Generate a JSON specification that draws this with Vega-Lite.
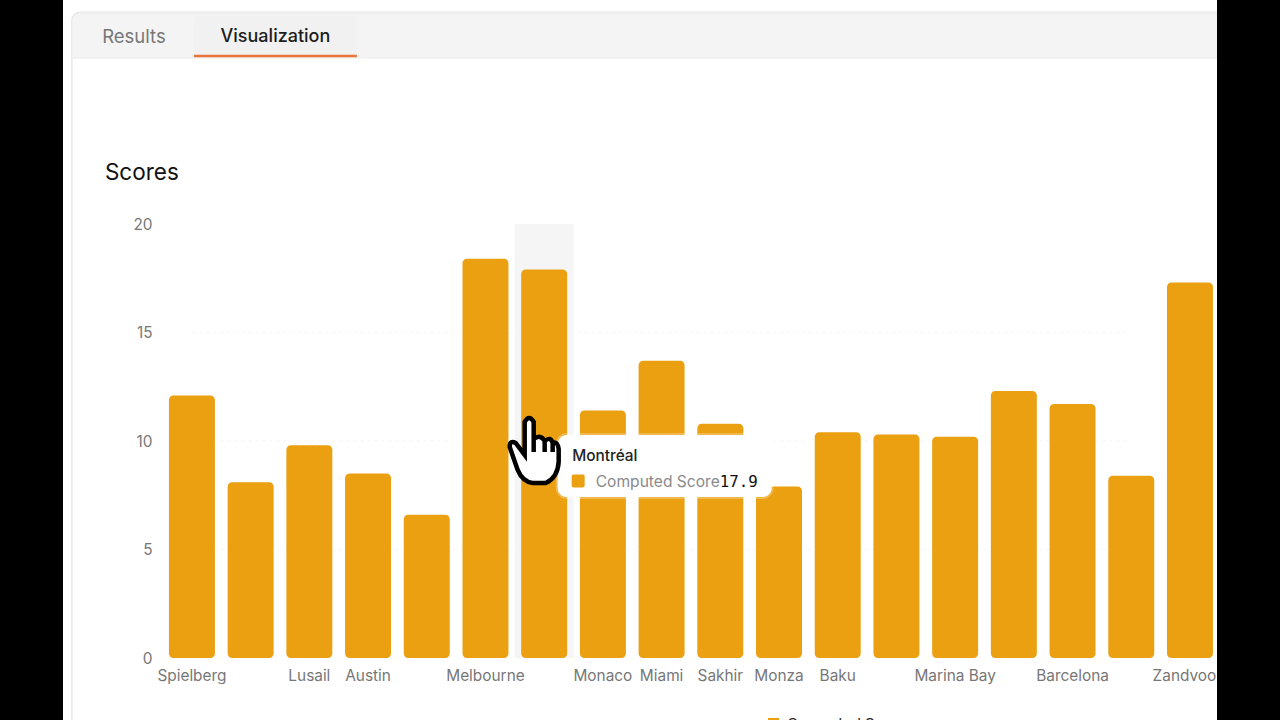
{
"$schema":"https://vega.github.io/schema/vega-lite/v6.json",
"width":1154,"height":720,
"autosize":{"type":"none"},
"padding":{"left":63,"right":63,"top":0,"bottom":0},
"background":"#000000",
"view":{"fill":"#ffffff","stroke":null},
"config":{"font":"Inter"},
"data":{"values":[
{"city":"Spielberg","score":12.1,"series":"Computed Score"},
{"city":"Silverstone","score":8.1,"series":"Computed Score"},
{"city":"Lusail","score":9.8,"series":"Computed Score"},
{"city":"Austin","score":8.5,"series":"Computed Score"},
{"city":"Mexico City","score":6.6,"series":"Computed Score"},
{"city":"Melbourne","score":18.4,"series":"Computed Score"},
{"city":"Montréal","score":17.9,"series":"Computed Score"},
{"city":"Monaco","score":11.4,"series":"Computed Score"},
{"city":"Miami","score":13.7,"series":"Computed Score"},
{"city":"Sakhir","score":10.8,"series":"Computed Score"},
{"city":"Monza","score":7.9,"series":"Computed Score"},
{"city":"Baku","score":10.4,"series":"Computed Score"},
{"city":"Suzuka","score":10.3,"series":"Computed Score"},
{"city":"Marina Bay","score":10.2,"series":"Computed Score"},
{"city":"Jeddah","score":12.3,"series":"Computed Score"},
{"city":"Barcelona","score":11.7,"series":"Computed Score"},
{"city":"Spa","score":8.4,"series":"Computed Score"},
{"city":"Zandvoort","score":17.3,"series":"Computed Score"}
]},
"resolve":{"axis":{"y":"independent"}},
"layer":[
{"data":{"values":[{"part":"panel"}]},
 "mark":{"type":"rect","clip":true,"width":1328,"xOffset":544,"fill":"transparent","stroke":"#e4e4e4","strokeWidth":1.2,"cornerRadius":8},
 "encoding":{"x":{"datum":"Spielberg","type":"nominal","axis":null},"y":{"datum":29.77,"type":"quantitative","axis":null},"y2":{"datum":-4}}},
{"data":{"values":[{"part":"tabbar"}]},
 "mark":{"type":"rect","clip":true,"width":1328,"xOffset":544,"fill":"#f4f4f4","stroke":"#ebebeb","strokeWidth":1,"cornerRadiusTopLeft":8},
 "encoding":{"x":{"datum":"Spielberg","type":"nominal","axis":null},"y":{"datum":29.72,"type":"quantitative","axis":null},"y2":{"datum":27.65}}},
{"data":{"values":[{"part":"tab"}]},
 "mark":{"type":"rect","width":163,"xOffset":83.5,"fill":"#f1f1f1","cornerRadiusTopLeft":4,"cornerRadiusTopRight":4},
 "encoding":{"x":{"datum":"Spielberg","type":"nominal","axis":null},"y":{"datum":29.6,"type":"quantitative","axis":null},"y2":{"datum":27.76}}},
{"data":{"values":[{"part":"underline"}]},
 "mark":{"type":"rect","width":163,"xOffset":83.5,"fill":"#e8763a"},
 "encoding":{"x":{"datum":"Spielberg","type":"nominal","axis":null},"y":{"datum":27.8,"type":"quantitative","axis":null},"y2":{"datum":27.68}}},
{"data":{"values":[{"label":"Results"}]},
 "mark":{"type":"text","align":"center","baseline":"middle","dx":-58,"dy":1,"fontSize":18.5,"fill":"#777777"},
 "encoding":{"x":{"datum":"Spielberg","type":"nominal","axis":null},"y":{"datum":28.66,"type":"quantitative","axis":null},"text":{"field":"label"}}},
{"data":{"values":[{"label":"Visualization"}]},
 "mark":{"type":"text","align":"center","baseline":"middle","dx":83.5,"dy":1,"fontSize":18,"fontWeight":500,"fill":"#1c1c1c"},
 "encoding":{"x":{"datum":"Spielberg","type":"nominal","axis":null},"y":{"datum":28.66,"type":"quantitative","axis":null},"text":{"field":"label"}}},
{"data":{"values":[{"label":"Scores"}]},
 "mark":{"type":"text","align":"left","baseline":"middle","dx":-87,"dy":1,"fontSize":22.5,"fontWeight":400,"fill":"#111111"},
 "encoding":{"x":{"datum":"Spielberg","type":"nominal","axis":null},"y":{"datum":22.4,"type":"quantitative","axis":null},"text":{"field":"label"}}},
{"data":{"values":[{"tick":5},{"tick":10},{"tick":15}]},
 "mark":{"type":"rule","stroke":"#f7f7f7","strokeWidth":1,"strokeDash":[4,3]},
 "encoding":{"x":{"datum":"Spielberg","type":"nominal","axis":null},"x2":{"datum":"Spa"},"y":{"field":"tick","type":"quantitative","axis":null}}},
{"transform":[{"filter":{"field":"city","equal":"Montréal"}}],
 "mark":{"type":"rect","width":59,"fill":"#f5f5f5"},
 "encoding":{"x":{"field":"city","type":"nominal","axis":null},"y":{"datum":20,"type":"quantitative","axis":null},"y2":{"datum":0}}},
{"mark":{"type":"bar","cornerRadius":4.5},
 "encoding":{
  "x":{"field":"city","type":"nominal","sort":null,"axis":null,
   "scale":{"domain":["Spielberg","Silverstone","Lusail","Austin","Mexico City","Melbourne","Montréal","Monaco","Miami","Sakhir","Monza","Baku","Suzuka","Marina Bay","Jeddah","Barcelona","Spa","Zandvoort"],"range":[99.6,1156.3],"paddingInner":0.217,"paddingOuter":0.108}},
  "y":{"field":"score","type":"quantitative","stack":null,
   "scale":{"domain":[0,20],"range":[658,224],"nice":false,"zero":false},
   "axis":{"title":null,"values":[0,5,10,15,20],"offset":-89,"domain":false,"ticks":false,"grid":false,"labelPadding":0,"labelFontSize":15.4,"labelColor":"#777777"}},
  "y2":{"datum":0},
  "color":{"field":"series","type":"nominal","scale":{"range":["#eba012"]},
   "legend":{"title":null,"orient":"none","legendX":703,"legendY":716,"symbolType":"square","symbolSize":121,"symbolOpacity":1,"symbolStrokeWidth":0,"labelOffset":6,"labelFontSize":15,"labelColor":"#222222"}}
 }},
{"transform":[{"filter":{"field":"city","oneOf":["Spielberg","Lusail","Austin","Melbourne","Monaco","Miami","Sakhir","Monza","Baku","Marina Bay","Barcelona","Zandvoort"]}}],
 "mark":{"type":"text","clip":true,"baseline":"middle","align":"center","dy":18,"fontSize":15.4,"fill":"#777777"},
 "encoding":{"x":{"field":"city","type":"nominal","axis":null},"y":{"datum":0,"type":"quantitative","axis":null},"text":{"field":"city"}}},
{"transform":[{"filter":{"field":"city","equal":"Montréal"}}],
 "layer":[
  {"mark":{"type":"rect","width":218,"height":66,"xOffset":120.5,"yOffset":196.4,"fill":"#ffffff","opacity":0.25,"cornerRadius":11},
   "encoding":{"x":{"field":"city","type":"nominal","axis":null},"y":{"field":"score","type":"quantitative","axis":null}}},
  {"mark":{"type":"rect","width":214,"height":62,"xOffset":120.5,"yOffset":196.4,"fill":"#ffffff","cornerRadius":9},
   "encoding":{"x":{"field":"city","type":"nominal","axis":null},"y":{"field":"score","type":"quantitative","axis":null}}},
  {"mark":{"type":"text","align":"left","baseline":"middle","dx":28,"dy":186,"fontSize":15.4,"fontWeight":500,"fill":"#222222"},
   "encoding":{"x":{"field":"city","type":"nominal","axis":null},"y":{"field":"score","type":"quantitative","axis":null},"text":{"field":"city"}}},
  {"mark":{"type":"rect","width":13,"height":13,"xOffset":34,"yOffset":211.4,"fill":"#eba012","cornerRadius":2},
   "encoding":{"x":{"field":"city","type":"nominal","axis":null},"y":{"field":"score","type":"quantitative","axis":null}}},
  {"mark":{"type":"text","align":"left","baseline":"middle","dx":51.5,"dy":212,"fontSize":15.6,"fill":"#8a8a8a"},
   "encoding":{"x":{"field":"city","type":"nominal","axis":null},"y":{"field":"score","type":"quantitative","axis":null},"text":{"field":"series"}}},
  {"mark":{"type":"text","align":"left","baseline":"middle","dx":175.5,"dy":212,"fontSize":15.8,"fontWeight":500,"font":"DejaVu Sans Mono","fill":"#111111"},
   "encoding":{"x":{"field":"city","type":"nominal","axis":null},"y":{"field":"score","type":"quantitative","axis":null},"text":{"field":"score","type":"quantitative","format":".1f"}}},
  {"mark":{"type":"point","filled":false,"fill":"#ffffff","fillOpacity":1,"stroke":"#000000","strokeWidth":4.5,"strokeOpacity":1,"opacity":1,"size":4624,"xOffset":-9.5,"yOffset":180.4,
    "shape":"M-0.294,-0.824Q-0.162,-1.059,-0.029,-0.824L-0.029,-0.324Q0.176,-0.471,0.294,-0.265Q0.471,-0.412,0.529,-0.206Q0.676,-0.265,0.706,-0.029L0.706,0.353Q0.676,0.824,0.324,0.971L-0.059,0.971Q-0.353,0.941,-0.5,0.588L-0.735,-0.088Q-0.735,-0.294,-0.559,-0.206L-0.294,0.147ZM-0.029,-0.324L-0.029,0.059M0.294,-0.265L0.294,0.059M0.529,-0.206L0.529,0.059"},
   "encoding":{"x":{"field":"city","type":"nominal","axis":null},"y":{"field":"score","type":"quantitative","axis":null}}}
 ]}
]
}
